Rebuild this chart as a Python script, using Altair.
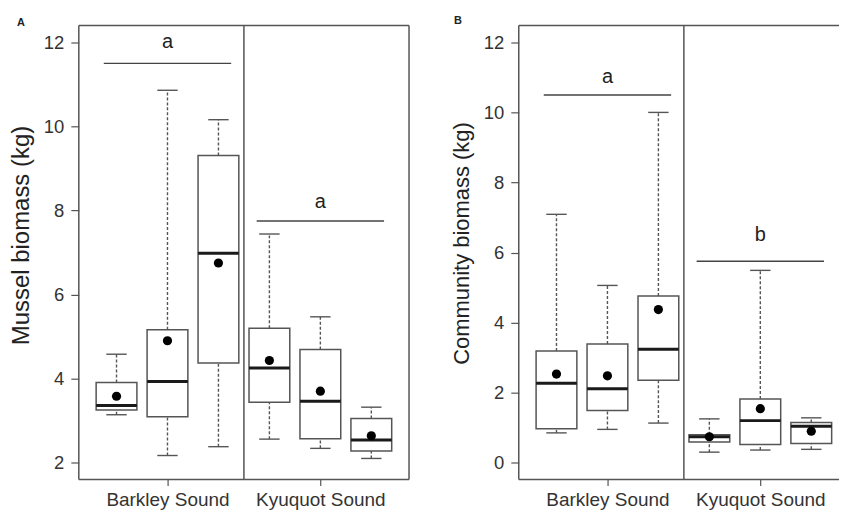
import altair as alt
import pandas as pd

# ---------------- data ----------------
positions = [1, 2, 3, 4, 5, 6]
group_labels = ["Barkley Sound", "Kyuquot Sound"]
group_positions = [2, 5]

# Panel A: mussel biomass (kg)
A_lower = [3.14, 2.17, 2.38, 2.56, 2.34, 2.10]
A_q1 = [3.25, 3.09, 4.37, 3.44, 2.57, 2.28]
A_median = [3.36, 3.93, 6.98, 4.25, 3.46, 2.54]
A_q3 = [3.91, 5.16, 9.31, 5.20, 4.69, 3.05]
A_upper = [4.58, 10.86, 10.16, 7.44, 5.47, 3.32]
A_mean = [3.58, 4.90, 6.75, 4.43, 3.70, 2.64]

# Panel B: community biomass (kg)
B_lower = [0.85, 0.95, 1.13, 0.30, 0.36, 0.38]
B_q1 = [0.97, 1.49, 2.35, 0.59, 0.52, 0.55]
B_median = [2.27, 2.11, 3.24, 0.74, 1.20, 1.04]
B_q3 = [3.19, 3.39, 4.76, 0.80, 1.82, 1.15]
B_upper = [7.09, 5.06, 10.00, 1.25, 5.49, 1.28]
B_mean = [2.53, 2.48, 4.37, 0.74, 1.54, 0.90]

# significance bars
sig_x1 = [0.75, 3.75]
sig_x2 = [3.25, 6.25]
A_sig_y = [11.5, 7.75]
A_sig_text_y = [12.0, 8.2]
A_sig_letters = ["a", "a"]
B_sig_y = [10.5, 5.75]
B_sig_text_y = [11.0, 6.49]
B_sig_letters = ["a", "b"]

divider_pos = [3.5]

FONT = "Liberation Sans"
LINE = "#555555"


def panel(lower, q1, med, q3, upper, mean, sig_y, sig_ty, sig_letters,
          ydom, yticks, xdom, W, H, ytitle, title_y, title_size,
          letter, letter_xy, right_border):
    df = pd.DataFrame({"pos": positions, "lower": lower, "q1": q1,
                       "median": med, "q3": q3, "upper": upper, "mean": mean})
    sig = pd.DataFrame({"x1": sig_x1, "x2": sig_x2, "y": sig_y,
                        "ty": sig_ty, "lab": sig_letters})
    div = pd.DataFrame({"d": divider_pos})

    xscale = alt.Scale(domain=xdom, nice=False, zero=False)
    yscale = alt.Scale(domain=ydom, nice=False, zero=False)
    label_expr = " : ".join(
        f"datum.value == {p} ? '{l}'" for p, l in zip(group_positions[:-1], group_labels[:-1])
    ) + f" : '{group_labels[-1]}'"
    xaxis = alt.Axis(values=group_positions, labelExpr=label_expr, title=None,
                     tickSize=6, tickColor=LINE, tickWidth=1.2, labelPadding=5,
                     labelFontSize=19, labelFont=FONT, labelColor="#333333",
                     domain=False, grid=False, labelFlush=False)
    yaxis = alt.Axis(values=yticks, title=ytitle, titleX=-57, titleY=title_y,
                     titleAngle=270, titleAlign="center", titleBaseline="middle",
                     titleFontSize=title_size, titleFont=FONT, titleFontWeight="normal",
                     titleColor="#222222", tickSize=8, tickColor=LINE, tickWidth=1.2,
                     labelPadding=7, labelFontSize=18.5, labelFont=FONT,
                     labelColor="#333333", domain=False, grid=False, format="d")

    X = lambda f: alt.X(f"{f}:Q", scale=xscale, axis=xaxis)
    Y = lambda f: alt.Y(f"{f}:Q", scale=yscale, axis=yaxis)

    base = alt.Chart(df)
    wl = base.mark_rule(color=LINE, strokeWidth=1.4, strokeDash=[3, 2]).encode(
        x=X("pos"), y=Y("lower"), y2="q1")
    wu = base.mark_rule(color=LINE, strokeWidth=1.4, strokeDash=[3, 2]).encode(
        x=X("pos"), y=Y("q3"), y2="upper")
    caps_l = base.transform_calculate(cl="datum.pos - 0.2", cr="datum.pos + 0.2").mark_rule(
        color=LINE, strokeWidth=1.4).encode(x=X("cl"), x2="cr", y=Y("lower"))
    caps_u = base.transform_calculate(cl="datum.pos - 0.2", cr="datum.pos + 0.2").mark_rule(
        color=LINE, strokeWidth=1.4).encode(x=X("cl"), x2="cr", y=Y("upper"))
    box = base.transform_calculate(bl="datum.pos - 0.4", br="datum.pos + 0.4").mark_rect(
        fill="white", stroke=LINE, strokeWidth=1.5).encode(
        x=X("bl"), x2="br", y=Y("q1"), y2="q3")
    medl = base.transform_calculate(bl="datum.pos - 0.4", br="datum.pos + 0.4").mark_rule(
        color="#1a1a1a", strokeWidth=3).encode(x=X("bl"), x2="br", y=Y("median"))
    mpt = base.mark_point(filled=True, color="black", size=85, opacity=1).encode(
        x=X("pos"), y=Y("mean"))

    divider = alt.Chart(div).mark_rule(color=LINE, strokeWidth=1.5).encode(
        x=X("d"), y=alt.value(0), y2=alt.value(H))
    sig_lines = alt.Chart(sig).mark_rule(color="#444444", strokeWidth=1.5).encode(
        x=X("x1"), x2="x2", y=Y("y"))
    sig_text = alt.Chart(sig).transform_calculate(xm="(datum.x1 + datum.x2) / 2").mark_text(
        font=FONT, fontSize=20, color="#222222", baseline="middle").encode(
        x=X("xm"), y=Y("ty"), text="lab:N")

    one = pd.DataFrame({"k": [0]})
    frame = [
        alt.Chart(one).mark_rule(color=LINE, strokeWidth=1.5).encode(
            x=alt.value(0), x2=alt.value(W), y=alt.value(0)),
        alt.Chart(one).mark_rule(color=LINE, strokeWidth=1.5).encode(
            x=alt.value(0), x2=alt.value(W), y=alt.value(H)),
        alt.Chart(one).mark_rule(color=LINE, strokeWidth=1.5).encode(
            x=alt.value(0), y=alt.value(0), y2=alt.value(H)),
    ]
    if right_border:
        frame.append(alt.Chart(one).mark_rule(color=LINE, strokeWidth=1.5).encode(
            x=alt.value(W), y=alt.value(0), y2=alt.value(H)))
    plabel = alt.Chart(pd.DataFrame({"t": [letter]})).mark_text(
        font=FONT, fontSize=11, fontWeight="bold", color="#222222",
        align="center", baseline="middle").encode(
        x=alt.value(letter_xy[0]), y=alt.value(letter_xy[1]), text="t:N")

    return alt.layer(wl, wu, caps_l, caps_u, box, medl, mpt, divider,
                     sig_lines, sig_text, plabel, *frame).properties(width=W, height=H)


H = 455
WA = 331
WB = 321
ppu = WA / 6.48
pA = panel(A_lower, A_q1, A_median, A_q3, A_upper, A_mean,
           A_sig_y, A_sig_text_y, A_sig_letters,
           [1.6, 12.4], [2, 4, 6, 8, 10, 12], [0.26, 6.74], WA, H,
           "Mussel biomass (kg)", 210, 24, "A", (-58, -3), True)
pB = panel(B_lower, B_q1, B_median, B_q3, B_upper, B_mean,
           B_sig_y, B_sig_text_y, B_sig_letters,
           [-0.48, 12.48], [0, 2, 4, 6, 8, 10, 12], [0.26, 0.26 + WB / ppu], WB, H,
           "Community biomass (kg)", 218, 22, "B", (-61, -4.5), False)

chart = alt.hconcat(pA, pB, spacing=110, bounds="flush").properties(
    padding={"left": 9, "top": 14, "right": 0, "bottom": 0},
    background="white",
).configure_view(stroke="transparent")

chart.save("out.html", embed_options={"renderer": "svg", "actions": False})
